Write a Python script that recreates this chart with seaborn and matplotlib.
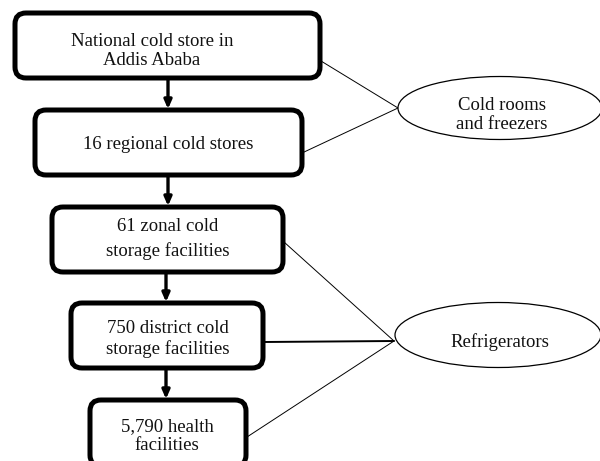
import matplotlib
matplotlib.use("Agg")
import matplotlib.pyplot as plt
import seaborn as sns
from matplotlib.patches import FancyBboxPatch, Ellipse

# chain of storage levels, top to bottom
levels = [
    "National cold store in\nAddis Ababa",
    "16 regional cold stores",
    "61 zonal cold\nstorage facilities",
    "750 district cold\nstorage facilities",
    "5,790 health\nfacilities",
]
equipment = ["Cold rooms\nand freezers", "Refrigerators"]
# which equipment each level uses
uses = [0, 0, 1, 1, 1]

sns.set_style("white")
plt.rcParams['font.family'] = ['Liberation Serif', 'DejaVu Serif']

# layout in pixel units (x0, y0, x1, y1)
boxes = [(15, 13, 320, 78), (35, 110, 302, 175), (52, 207, 283, 272),
         (71, 303, 263, 368), (90, 400, 246, 466)]
text_pos = [(152, 51, 1.15), (168, 144, 1.2), (168, 239, 1.5),
            (168, 339, 1.2), (167, 436, 1.15)]
ell = [(500, 108, 204, 63), (498, 335, 206, 65)]
ell_left = [(398, 108), (394, 341)]
line_start = [(321, 61), (302, 153), (284, 242), (264, 342), (247, 437)]
arrow_x = [168, 168, 166, 166]

fig = plt.figure(figsize=(6, 4.61), dpi=100)
ax = fig.add_axes([0, 0, 1, 1])
ax.set_xlim(0, 600)
ax.set_ylim(461, 0)
ax.axis("off")

for (x0, y0, x1, y1), label, (tx, ty, ls) in zip(boxes, levels, text_pos):
    ax.add_patch(FancyBboxPatch((x0, y0), x1 - x0, y1 - y0,
                                boxstyle="round,pad=0,rounding_size=11",
                                fc="white", ec="black", lw=3.6, zorder=2))
    ax.text(tx, ty, label, ha="center", va="center", fontsize=13.5,
            color="#111111", linespacing=ls, zorder=3)

for i, x in enumerate(arrow_x):
    ax.annotate("", xy=(x, boxes[i + 1][1] - 1), xytext=(x, boxes[i][3] + 1),
                arrowprops=dict(arrowstyle="-|>,head_length=0.5,head_width=0.22",
                                lw=2.4, color="black", shrinkA=0, shrinkB=0),
                zorder=1)

for (cx, cy, w, h), label in zip(ell, equipment):
    ax.add_patch(Ellipse((cx, cy), w, h, fc="white", ec="black", lw=0.9, zorder=2))
    ax.text(cx + 2, cy + 7, label, ha="center", va="center", fontsize=13.5,
            color="#111111", linespacing=1.15, zorder=3)

for (sx, sy), k in zip(line_start, uses):
    ex, ey = ell_left[k]
    lw = 1.4 if sy == ey + 1 else 0.7
    ax.plot([sx, ex], [sy, ey], color="black", lw=lw, zorder=1)

fig.savefig("out.png", dpi=100)
